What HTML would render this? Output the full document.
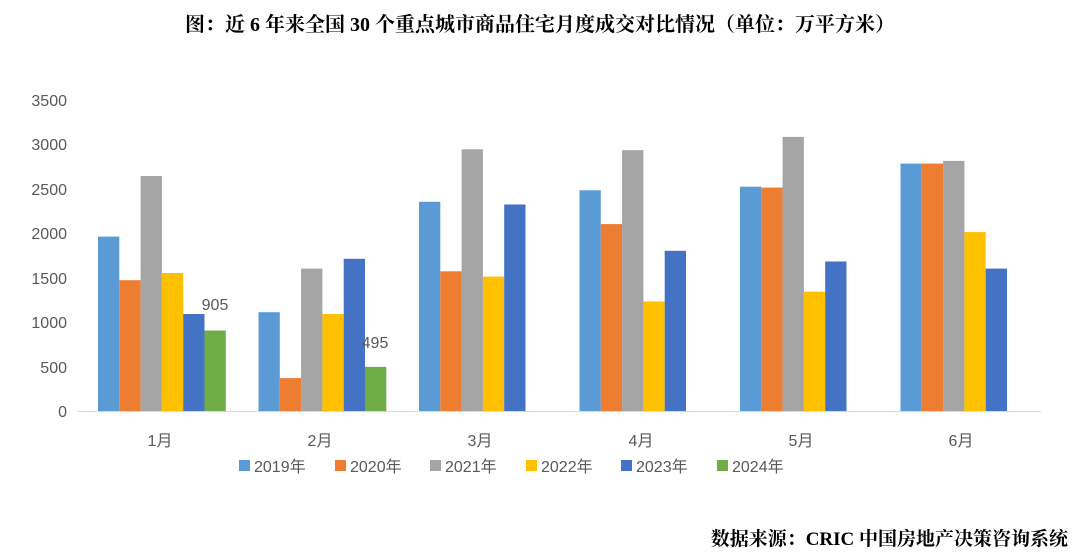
<!DOCTYPE html>
<html><head><meta charset="utf-8"><style>
body{margin:0;background:#fff;}
svg{display:block;}
</style></head><body>
<svg width="1080" height="556" xmlns="http://www.w3.org/2000/svg">
<rect width="1080" height="556" fill="#fff"/>
<text x="540" y="31" text-anchor="middle" font-family="'Liberation Serif','Noto Serif CJK SC',serif" font-weight="bold" font-size="20" fill="#000">图：近 6 年来全国 30 个重点城市商品住宅月度成交对比情况（单位：万平方米）</text>
<g font-family="'Liberation Sans','Noto Sans CJK SC',sans-serif" font-size="16" fill="#595959" text-anchor="end">
<text x="67" y="106">3500</text>
<text x="67" y="150">3000</text>
<text x="67" y="195">2500</text>
<text x="67" y="239">2000</text>
<text x="67" y="284">1500</text>
<text x="67" y="328">1000</text>
<text x="67" y="373">500</text>
<text x="67" y="417">0</text>
</g>
<line x1="78" y1="411.5" x2="1041" y2="411.5" stroke="#D9D9D9" stroke-width="1"/>
<g>
<rect x="98" y="236.6" width="21.3" height="174.4" fill="#5B9BD5"/>
<rect x="119.3" y="280.2" width="21.3" height="130.8" fill="#ED7D31"/>
<rect x="140.6" y="176" width="21.3" height="235" fill="#A5A5A5"/>
<rect x="161.9" y="273" width="21.3" height="138" fill="#FFC000"/>
<rect x="183.2" y="314" width="21.3" height="97" fill="#4472C4"/>
<rect x="204.5" y="330.5" width="21.3" height="80.5" fill="#70AD47"/>

<rect x="258.5" y="312.2" width="21.3" height="98.8" fill="#5B9BD5"/>
<rect x="279.8" y="378.1" width="21.3" height="32.9" fill="#ED7D31"/>
<rect x="301.1" y="268.6" width="21.3" height="142.4" fill="#A5A5A5"/>
<rect x="322.4" y="314" width="21.3" height="97" fill="#FFC000"/>
<rect x="343.7" y="258.8" width="21.3" height="152.2" fill="#4472C4"/>
<rect x="365" y="366.9" width="21.3" height="44.1" fill="#70AD47"/>

<rect x="419" y="201.8" width="21.3" height="209.2" fill="#5B9BD5"/>
<rect x="440.3" y="271.3" width="21.3" height="139.7" fill="#ED7D31"/>
<rect x="461.6" y="149.3" width="21.3" height="261.7" fill="#A5A5A5"/>
<rect x="482.9" y="276.6" width="21.3" height="134.4" fill="#FFC000"/>
<rect x="504.2" y="204.5" width="21.3" height="206.5" fill="#4472C4"/>

<rect x="579.5" y="190.3" width="21.3" height="220.7" fill="#5B9BD5"/>
<rect x="600.8" y="224.1" width="21.3" height="186.9" fill="#ED7D31"/>
<rect x="622.1" y="150.2" width="21.3" height="260.8" fill="#A5A5A5"/>
<rect x="643.4" y="301.5" width="21.3" height="109.5" fill="#FFC000"/>
<rect x="664.7" y="250.8" width="21.3" height="160.2" fill="#4472C4"/>

<rect x="740" y="186.7" width="21.3" height="224.3" fill="#5B9BD5"/>
<rect x="761.3" y="187.6" width="21.3" height="223.4" fill="#ED7D31"/>
<rect x="782.6" y="136.9" width="21.3" height="274.1" fill="#A5A5A5"/>
<rect x="803.9" y="291.7" width="21.3" height="119.3" fill="#FFC000"/>
<rect x="825.2" y="261.5" width="21.3" height="149.5" fill="#4472C4"/>

<rect x="900.5" y="163.6" width="21.3" height="247.4" fill="#5B9BD5"/>
<rect x="921.8" y="163.6" width="21.3" height="247.4" fill="#ED7D31"/>
<rect x="943.1" y="160.9" width="21.3" height="250.1" fill="#A5A5A5"/>
<rect x="964.4" y="232.1" width="21.3" height="178.9" fill="#FFC000"/>
<rect x="985.7" y="268.6" width="21.3" height="142.4" fill="#4472C4"/>
</g>
<g font-family="'Liberation Sans','Noto Sans CJK SC',sans-serif" font-size="16" fill="#595959" text-anchor="middle">
<text x="160" y="446">1月</text>
<text x="320" y="446">2月</text>
<text x="480" y="446">3月</text>
<text x="641" y="446">4月</text>
<text x="801" y="446">5月</text>
<text x="961" y="446">6月</text>
<text x="215" y="310">905</text>
<text x="375" y="348">495</text>
</g>
<g font-family="'Liberation Sans','Noto Sans CJK SC',sans-serif" font-size="16" fill="#595959">
<rect x="239" y="460" width="11" height="11" fill="#5B9BD5"/><text x="254" y="472">2019年</text>
<rect x="335" y="460" width="11" height="11" fill="#ED7D31"/><text x="350" y="472">2020年</text>
<rect x="430" y="460" width="11" height="11" fill="#A5A5A5"/><text x="445" y="472">2021年</text>
<rect x="526" y="460" width="11" height="11" fill="#FFC000"/><text x="541" y="472">2022年</text>
<rect x="621" y="460" width="11" height="11" fill="#4472C4"/><text x="636" y="472">2023年</text>
<rect x="717" y="460" width="11" height="11" fill="#70AD47"/><text x="732" y="472">2024年</text>
</g>
<text x="1068" y="545" text-anchor="end" font-family="'Liberation Serif','Noto Serif CJK SC',serif" font-weight="bold" font-size="19" fill="#000">数据来源：CRIC 中国房地产决策咨询系统</text>
</svg>
</body></html>
